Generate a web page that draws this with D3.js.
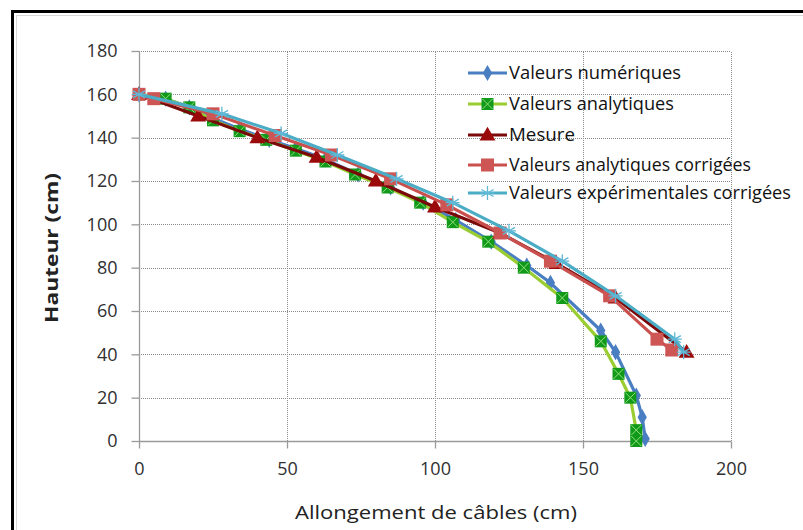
<!DOCTYPE html>
<html><head><meta charset="utf-8">
<script src="https://cdn.jsdelivr.net/npm/d3@7"></script>
<style>
html,body{margin:0;padding:0;background:#fff;}
svg{display:block;font-family:"Open Sans","Noto Sans",sans-serif;}
</style></head>
<body><svg id="c" width="803" height="530"></svg>
<script>
// ---- data ----
const seriesNames = ["Valeurs numériques","Valeurs analytiques","Mesure","Valeurs analytiques corrigées","Valeurs expérimentales corrigées"];
const numX = [0, 9, 17, 25, 34, 44, 53, 63, 74, 85, 96, 107, 119, 131, 139, 156, 161, 168, 170, 171];
const numY = [160, 158, 154, 149, 144, 139, 135, 130, 123, 117, 110, 102, 92, 81, 73, 51, 41, 21, 11, 1];
const anaX = [0, 9, 17, 25, 34, 43, 53, 63, 73, 84, 95, 106, 118, 130, 143, 156, 162, 166, 168, 168];
const anaY = [160, 158, 154, 148, 143, 139, 134, 129, 123, 117, 110, 101, 92, 80, 66, 46, 31, 20, 5, 0];
const mesX = [0, 20, 40, 60, 80, 100, 122, 141, 161, 185];
const mesY = [160, 150, 140, 131, 120, 108, 96, 82, 66, 41];
const corX = [0, 5, 25, 46, 65, 85, 104, 122, 139, 159, 175, 180];
const corY = [160, 158, 151, 141, 132, 121, 109, 96, 83, 67, 47, 42];
const expX = [0, 28, 48, 67, 87, 106, 125, 143, 161, 181, 184];
const expY = [160, 151, 142, 132, 121, 110, 97, 83, 67, 47, 41];
const xTicks = [0, 50, 100, 150, 200];
const yTicks = [0, 20, 40, 60, 80, 100, 120, 140, 160, 180];
const xTitle = "Allongement de câbles (cm)";
const yTitle = "Hauteur (cm)";

const svg = d3.select("#c");
// frame
svg.append("line").attr("x1",12.5).attr("y1",11).attr("x2",12.5).attr("y2",530).attr("stroke","#000").attr("stroke-width",3);
svg.append("line").attr("x1",11).attr("y1",11.5).attr("x2",803).attr("y2",11.5).attr("stroke","#000").attr("stroke-width",3);
svg.append("line").attr("x1",16.5).attr("y1",15).attr("x2",16.5).attr("y2",530).attr("stroke","#d8d8d8").attr("stroke-width",1);
svg.append("line").attr("x1",16).attr("y1",15.5).attr("x2",803).attr("y2",15.5).attr("stroke","#d8d8d8").attr("stroke-width",1);

const x = d3.scaleLinear().domain([0,200]).range([139,731]);
const y = d3.scaleLinear().domain([0,180]).range([441,51]);

// gridlines
const grid = svg.append("g");
grid.selectAll(".hg").data(yTicks.filter(d=>d>0)).join("line")
  .attr("x1",x(0)).attr("x2",x(200)).attr("y1",d=>Math.round(y(d))+0.5).attr("y2",d=>Math.round(y(d))+0.5)
  .attr("stroke","#8a8a8a").attr("stroke-width",1).attr("stroke-dasharray","1,1");
grid.selectAll(".vg").data(xTicks.filter(d=>d>0)).join("line")
  .attr("y1",y(0)).attr("y2",y(180)).attr("x1",d=>Math.round(x(d))+0.5).attr("x2",d=>Math.round(x(d))+0.5)
  .attr("stroke","#8a8a8a").attr("stroke-width",1).attr("stroke-dasharray","1,1");

// axes
const xAxis = d3.axisBottom(x).tickValues(xTicks).tickSize(7).tickPadding(14).tickFormat(d3.format("d"));
const yAxis = d3.axisLeft(y).tickValues(yTicks).tickSize(8).tickPadding(14).tickFormat(d3.format("d"));
const gx = svg.append("g").attr("transform",`translate(0,${Math.round(y(0))+0.5})`).call(xAxis);
const gy = svg.append("g").attr("transform",`translate(${Math.round(x(0))+0.5},0)`).call(yAxis);
[gx,gy].forEach(g=>{
  g.select(".domain").attr("stroke","#9a9a9a").attr("stroke-width",1.3);
  g.selectAll(".tick line").attr("stroke","#9a9a9a").attr("stroke-width",1.3);
  g.selectAll("text").attr("font-size",18).attr("fill","#303030").attr("font-family","'Open Sans',sans-serif");
});
gx.select(".domain").attr("d",`M${x(0)},0H${x(200)}`);
gy.select(".domain").attr("d",`M0,${y(0)}V${y(180)}`);

// titles
svg.append("text").attr("x",436).attr("y",519).attr("text-anchor","middle")
  .attr("font-size",19).attr("fill","#222").attr("textLength",282).attr("lengthAdjust","spacingAndGlyphs").text(xTitle);
svg.append("text").attr("transform","translate(58,248) rotate(-90)").attr("text-anchor","middle")
  .attr("font-size",18).attr("font-weight","bold").attr("fill","#222").attr("textLength",150).attr("lengthAdjust","spacingAndGlyphs").text(yTitle);

const line = d3.line().x(d=>x(d[0])).y(d=>y(d[1]));
const zip = (a,b)=>a.map((v,i)=>[v,b[i]]);

// marker drawers
function diamond(g,px,py){ g.append("path").attr("transform",`translate(${px},${py})`).attr("d",d3.symbol(d3.symbolDiamond,75)()).attr("fill","#4a7ec2"); }
function xsquare(g,px,py){
  const s=12;
  g.append("rect").attr("x",px-s/2).attr("y",py-s/2).attr("width",s).attr("height",s).attr("fill","#119a1a");
  g.append("path").attr("d",`M${px-s/2+1},${py-s/2+1}L${px+s/2-1},${py+s/2-1}M${px+s/2-1},${py-s/2+1}L${px-s/2+1},${py+s/2-1}`).attr("stroke","#8fe07a").attr("stroke-width",1);
}
function triangle(g,px,py){ g.append("path").attr("transform",`translate(${px},${py+1})`).attr("d",d3.symbol(d3.symbolTriangle,110)()).attr("fill","#9b0a0a"); }
function square(g,px,py){ const s=13; g.append("rect").attr("x",px-s/2).attr("y",py-s/2).attr("width",s).attr("height",s).attr("fill","#cd5553"); }
function star(g,px,py){
  const r=7, p=[];
  for(let k=0;k<3;k++){const a=Math.PI/2+k*Math.PI/3; p.push(`M${px+r*Math.cos(a)},${py+r*Math.sin(a)}L${px-r*Math.cos(a)},${py-r*Math.sin(a)}`);}
  p.push(`M${px-r},${py}L${px+r},${py}`);
  g.append("path").attr("d",p.join("")).attr("stroke","#5fb8d6").attr("stroke-width",1.3);
}

const series = [
  {name:seriesNames[0], pts:zip(numX,numY), color:"#4a7ec2", marker:diamond},
  {name:seriesNames[1], pts:zip(anaX,anaY), color:"#9acd32", marker:xsquare},
  {name:seriesNames[2], pts:zip(mesX,mesY), color:"#7a0a0a", marker:triangle},
  {name:seriesNames[3], pts:zip(corX,corY), color:"#c9504d", marker:square},
  {name:seriesNames[4], pts:zip(expX,expY), color:"#4bacc6", marker:star}
];

series.forEach(s=>{
  const g = svg.append("g");
  g.append("path").attr("d",line(s.pts)).attr("fill","none").attr("stroke",s.color).attr("stroke-width",3.2).attr("stroke-linejoin","round");
  s.pts.forEach(p=>s.marker(g,x(p[0]),y(p[1])));
});

// legend
const legY = [73, 104, 135, 165, 193];
series.forEach((s,i)=>{
  const g = svg.append("g");
  g.append("line").attr("x1",468).attr("x2",507).attr("y1",legY[i]).attr("y2",legY[i]).attr("stroke",s.color).attr("stroke-width",3);
  s.marker(g,487.5,legY[i]);
  const widths=[172,165,66,242,282];
  g.append("text").attr("x",509).attr("y",legY[i]+6).attr("font-size",17.5).attr("fill","#111")
    .attr("textLength",widths[i]).attr("lengthAdjust","spacingAndGlyphs").text(s.name);
});
</script></body></html>
